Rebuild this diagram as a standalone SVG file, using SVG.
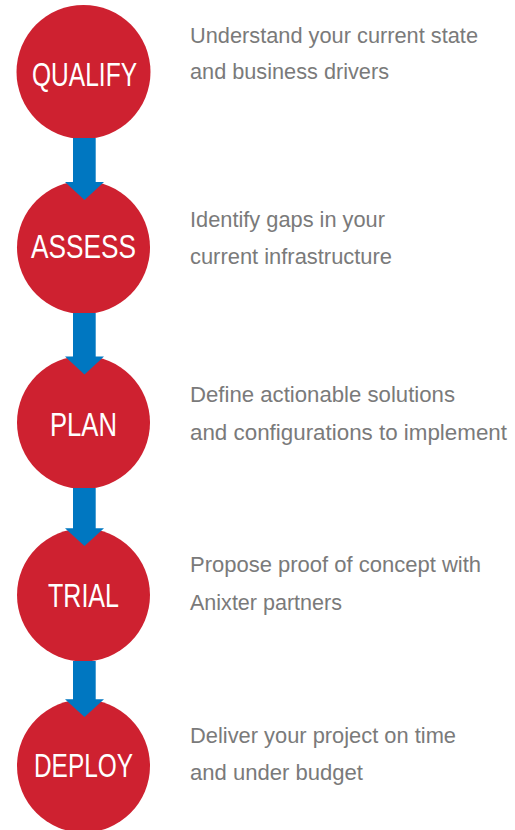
<svg xmlns="http://www.w3.org/2000/svg" width="515" height="830" viewBox="0 0 515 830">
<style>
.c{fill:#CE2130}
.lbl{font-family:"Liberation Sans",Arial,sans-serif;font-size:33px;fill:#fff;text-anchor:middle}
.d{font-family:"Liberation Sans",Arial,sans-serif;font-size:22px;fill:#7a7a7a}
.a{fill:#0077C1}
</style>
<rect width="515" height="830" fill="#fff"/>
<g id="qualify">
<circle class="c" cx="83.5" cy="72" r="67"/>
<text class="lbl" x="84.5" y="86" textLength="105" lengthAdjust="spacingAndGlyphs">QUALIFY</text>
<text class="d" x="190" y="42.5" textLength="288" lengthAdjust="spacingAndGlyphs">Understand your current state</text>
<text class="d" x="190" y="79" textLength="199" lengthAdjust="spacingAndGlyphs">and business drivers</text>
</g>
<g id="assess">
<circle class="c" cx="83.5" cy="247.5" r="66.5"/>
<text class="lbl" x="83.5" y="258.3" textLength="105" lengthAdjust="spacingAndGlyphs">ASSESS</text>
<text class="d" x="190" y="226.7" textLength="195" lengthAdjust="spacingAndGlyphs">Identify gaps in your</text>
<text class="d" x="190" y="263.5" textLength="202" lengthAdjust="spacingAndGlyphs">current infrastructure</text>
</g>
<g id="plan">
<circle class="c" cx="83.5" cy="422.5" r="66.5"/>
<text class="lbl" x="83.5" y="435.7" textLength="67" lengthAdjust="spacingAndGlyphs">PLAN</text>
<text class="d" x="190" y="402" textLength="265" lengthAdjust="spacingAndGlyphs">Define actionable solutions</text>
<text class="d" x="190" y="440" textLength="317" lengthAdjust="spacingAndGlyphs">and configurations to implement</text>
</g>
<g id="trial">
<circle class="c" cx="83.5" cy="595" r="66.5"/>
<text class="lbl" x="83.5" y="606.7" textLength="71" lengthAdjust="spacingAndGlyphs">TRIAL</text>
<text class="d" x="190" y="571.7" textLength="291" lengthAdjust="spacingAndGlyphs">Propose proof of concept with</text>
<text class="d" x="190" y="610" textLength="152" lengthAdjust="spacingAndGlyphs">Anixter partners</text>
</g>
<g id="deploy">
<circle class="c" cx="83.5" cy="766" r="66.5"/>
<text class="lbl" x="83.5" y="776.7" textLength="99" lengthAdjust="spacingAndGlyphs">DEPLOY</text>
<text class="d" x="190" y="742.5" textLength="266" lengthAdjust="spacingAndGlyphs">Deliver your project on time</text>
<text class="d" x="190" y="780" textLength="173" lengthAdjust="spacingAndGlyphs">and under budget</text>
</g>
<g id="connectors">
<path class="a" d="M73,138 H95.7 V182 H104 L84.5,200 L65,182 H73 Z"/>
<path class="a" d="M73,313 H95.7 V356.5 H104 L84.5,374.5 L65,356.5 H73 Z"/>
<path class="a" d="M73,488 H95.7 V528.3 H104 L84.5,546 L65,528.3 H73 Z"/>
<path class="a" d="M73,661 H95.7 V699.3 H104 L84.5,717 L65,699.3 H73 Z"/>
</g>
</svg>
